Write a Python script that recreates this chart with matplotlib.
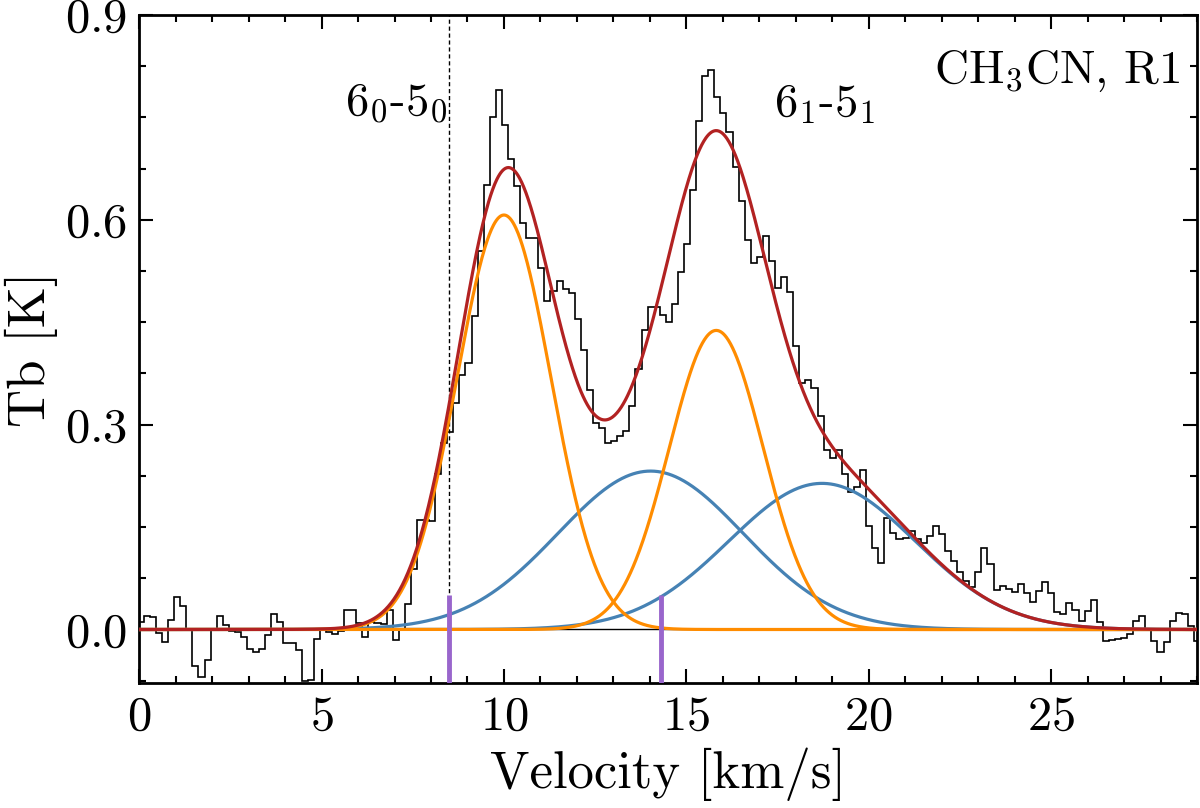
import numpy as np
import matplotlib
matplotlib.use("Agg")
import matplotlib.pyplot as plt
from matplotlib.ticker import MultipleLocator

plt.rcParams['font.family'] = 'serif'
plt.rcParams['font.serif'] = ['cmr10']
plt.rcParams['mathtext.fontset'] = 'cm'
plt.rcParams['axes.formatter.use_mathtext'] = True

# observed spectrum, one value per channel (K)
tb = [0.011, 0.020, 0.018, -0.005, -0.018, 0.014, 0.048, 0.034, -0.001, -0.054,
      -0.070, -0.044, -0.001, 0.020, 0.006, -0.002, -0.003, -0.011, -0.028, -0.033,
      -0.028, -0.008, 0.023, 0.011, -0.020, -0.020, -0.030, -0.075, -0.074, -0.014,
      0.001, -0.003, -0.007, -0.002, 0.029, 0.029, 0.009, -0.011, 0.011, 0.009,
      0.008, 0.028, -0.016, 0.000, 0.038, 0.088, 0.161, 0.160, 0.159, 0.227,
      0.273, 0.289, 0.332, 0.373, 0.390, 0.459, 0.554, 0.651, 0.751, 0.790,
      0.739, 0.689, 0.649, 0.595, 0.573, 0.573, 0.529, 0.481, 0.495, 0.510,
      0.498, 0.493, 0.455, 0.410, 0.351, 0.303, 0.295, 0.273, 0.276, 0.283,
      0.290, 0.328, 0.381, 0.438, 0.472, 0.472, 0.461, 0.451, 0.476, 0.523,
      0.565, 0.644, 0.744, 0.811, 0.819, 0.780, 0.756, 0.729, 0.678, 0.627,
      0.570, 0.537, 0.546, 0.576, 0.540, 0.500, 0.516, 0.494, 0.415, 0.361,
      0.366, 0.354, 0.312, 0.263, 0.251, 0.263, 0.228, 0.201, 0.209, 0.234,
      0.151, 0.120, 0.098, 0.163, 0.141, 0.132, 0.134, 0.144, 0.133, 0.126,
      0.137, 0.151, 0.140, 0.115, 0.100, 0.084, 0.071, 0.062, 0.084, 0.120,
      0.096, 0.058, 0.063, 0.060, 0.055, 0.066, 0.054, 0.040, 0.056, 0.069,
      0.054, 0.025, 0.022, 0.039, 0.029, 0.012, 0.027, 0.043, 0.011, -0.017,
      -0.015, -0.014, -0.012, -0.007, 0.012, 0.020, 0.001, -0.017, -0.033, -0.019,
      0.012, 0.024, 0.022, 0.005, -0.017]
v_start = -0.04   # km/s, first channel edge
dv = 0.1664       # km/s, channel width

# gaussian components (center, amplitude, sigma)
narrow_comp = [(10.0, 0.607, 1.29), (15.82, 0.438, 1.29)]
broad_comp = [(14.02, 0.232, 2.54), (18.72, 0.214, 2.55)]

line_pos = [8.5, 14.3]   # km/s, 6_0-5_0 and 6_1-5_1 (purple markers)


def gauss(x, c, a, s):
    return a * np.exp(-(x - c)**2 / (2 * s**2))


edges = v_start + dv * np.arange(len(tb) + 1)
vv = np.linspace(0, 29, 1500)

fig = plt.figure(figsize=(12, 8.08), dpi=100)
ax = fig.add_axes([0.116, 0.155, 0.8815, 0.8265])

ax.axvline(8.5, color='k', ls='--', lw=1.0, dashes=(3, 2), zorder=1)
ax.stairs(np.array(tb), edges, baseline=None, color='k', lw=1.2, zorder=2)
ax.axhline(0, color='k', lw=1.0, zorder=2)

total = np.zeros_like(vv)
for c, a, s in broad_comp:
    g = gauss(vv, c, a, s)
    total += g
    ax.plot(vv, g, color='#4682b4', lw=2.3, zorder=3)
for c, a, s in narrow_comp:
    g = gauss(vv, c, a, s)
    total += g
    ax.plot(vv, g, color='#ff8c00', lw=2.3, zorder=4)
ax.plot(vv, total, color='#b22222', lw=2.3, zorder=5)

for p in line_pos:
    ax.plot([p, p], [-0.1, 0.05], color='#9966cc', lw=3.5, zorder=6,
            solid_capstyle='butt')

ax.text(8.45, 0.77, r'$6_0$-$5_0$', fontsize=33.5, ha='right', va='center')
ax.text(18.8, 0.77, r'$6_1$-$5_1$', fontsize=33.5, ha='center', va='center')
ax.text(28.55, 0.818, r'CH$_3$CN, R1', fontsize=34, ha='right', va='center')

ax.set_xlim(0, 29)
ax.set_ylim(-0.078, 0.9)
ax.xaxis.set_major_locator(MultipleLocator(5))
ax.xaxis.set_minor_locator(MultipleLocator(1))
ax.yaxis.set_major_locator(MultipleLocator(0.3))
ax.yaxis.set_minor_locator(MultipleLocator(0.075))
ax.tick_params(which='both', direction='in', top=True, right=True, width=1.5,
               labelsize=35)
ax.tick_params(which='major', length=10, pad=9)
ax.tick_params(which='minor', length=5)
for sp in ax.spines.values():
    sp.set_linewidth(2)

ax.set_xlabel('Velocity [km/s]', fontsize=38, labelpad=6)
ax.set_ylabel('Tb [K]', fontsize=38, labelpad=5)

fig.savefig('out.png', dpi=100)
